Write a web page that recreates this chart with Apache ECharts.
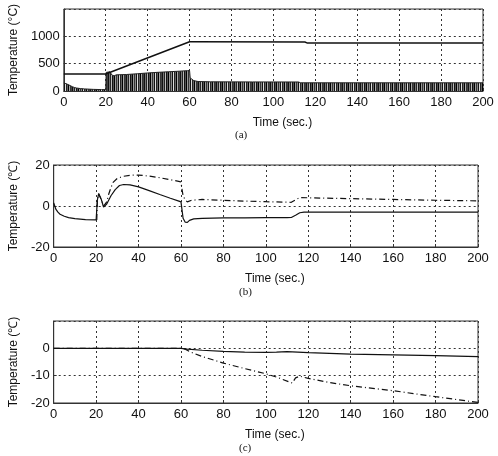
<!DOCTYPE html>
<html>
<head>
<meta charset="utf-8">
<script src="https://cdn.jsdelivr.net/npm/echarts@6/dist/echarts.min.js"></script>
<style>
  html, body { margin: 0; padding: 0; background: #fff; }
  #chart { width: 498px; height: 456px; }
</style>
</head>
<body>
<div id="chart"></div>
<script>
// x ticks shared by all three panels
const timeTicks = [0, 20, 40, 60, 80, 100, 120, 140, 160, 180, 200];

// (a) set-point temperature and heater drive envelope [time, value]
const aSetpoint = [[0, 310], [20, 310], [20.5, 330], [60, 900], [61, 900], [115, 895], [116, 880], [200, 880]];
const aDrive = [
  [0, 145], [1, 135], [2, 118], [3, 100], [4, 80], [5, 65], [6, 55], [8, 44], [10, 38], [14, 30],
  [18, 26], [20, 25], [20.2, 340], [21, 355], [22, 352], [23, 290], [24, 278], [25, 295], [30, 302],
  [35, 315], [40, 330], [45, 342], [50, 352], [55, 362], [59, 372], [60, 375], [60.3, 240], [61, 215],
  [62, 190], [64, 174], [70, 168], [90, 166], [112, 165], [113, 150], [200, 150]
];

// (b) temperature error, solid and dash-dot curves
const bSolid = [
  [0, 1.5], [0.5, 0], [1, -1.5], [2, -3], [3, -4], [5, -5], [7, -5.7], [10, -6.2], [15, -6.6], [20, -6.8],
  [20.3, -6.8], [20.6, 3], [21.2, 6], [21.8, 6.3], [22.5, 3], [23.5, -0.5], [24, -0.9], [25, 1], [27, 5],
  [29, 8], [31, 10], [33, 10.5], [36, 10.3], [40, 9.3], [45, 7.5], [50, 5.6], [55, 3.8], [59, 2.4], [60, 2],
  [60.5, -2], [61, -6], [62, -7.9], [63, -8], [64, -7], [66, -6.3], [70, -6], [80, -5.8], [90, -5.8],
  [100, -5.7], [110, -5.7], [112, -5.6], [114, -4.5], [116, -3.3], [118, -3], [200, -3]
];
const bDashDot = [
  [20.3, -6.8], [20.6, 3], [21.2, 6], [21.8, 6.3], [22.5, 3], [23.5, 0], [24, -0.5], [25, 2], [26, 6],
  [27, 9], [28, 11.5], [30, 13.5], [33, 14.5], [36, 15], [40, 15.1], [45, 14.6], [50, 13.8], [55, 12.8],
  [60, 11.8], [60.5, 8], [61, 5], [62, 3], [63, 2], [65, 2.8], [70, 3.2], [80, 2.8], [90, 2.4], [100, 2.1],
  [112, 1.8], [114, 3], [116, 4.1], [120, 4], [140, 3.6], [160, 3.2], [180, 2.8], [200, 2.5]
];

// (c) temperature error, solid and dash-dot curves
const cSolid = [
  [0, 0], [60, 0], [63, -0.3], [70, -0.7], [80, -1.1], [90, -1.4], [100, -1.5], [105, -1.4], [110, -1.2],
  [115, -1.4], [120, -1.6], [140, -2.1], [160, -2.4], [180, -2.7], [200, -3]
];
const cDashDot = [
  [0, 0], [60, 0], [62, -0.3], [65, -1.5], [70, -3], [80, -5.4], [90, -7.4], [100, -9.3], [105, -10.5],
  [111, -12.3], [112.5, -12.7], [114, -10.8], [116, -10.2], [120, -11], [130, -12.5], [140, -13.7],
  [160, -15.5], [180, -17.7], [200, -19.8]
];

// striped fill that mimics the dense on/off drive signal
function stripes() {
  const shades = ['#111', '#777', '#222', '#bbb', '#111', '#555', '#000', '#999', '#333', '#888', '#111', '#ddd', '#222', '#666', '#000', '#aaa', '#333', '#444'];
  const c = document.createElement('canvas');
  c.width = shades.length;
  c.height = 4;
  const ctx = c.getContext('2d');
  shades.forEach((s, i) => { ctx.fillStyle = s; ctx.fillRect(i, 0, 1, 4); });
  return c;
}

const font = 'Liberation Sans, Arial, sans-serif';
const dotted = { color: '#333', type: [2, 3], width: 1 };

function xAx(gi) {
  return {
    gridIndex: gi, type: 'value', min: 0, max: 200, interval: 20,
    axisLine: { show: true, onZero: false, lineStyle: { color: '#333' } },
    axisTick: { show: true, inside: true, length: 3, lineStyle: { color: '#333' } },
    axisLabel: { color: '#111', fontSize: 13, fontFamily: font, margin: 5 },
    splitLine: { show: true, lineStyle: dotted },
    name: 'Time (sec.)', nameLocation: 'middle', nameGap: 26,
    nameTextStyle: { color: '#111', fontSize: 12, fontFamily: font, padding: [0, 0, 0, 18] }
  };
}

function yAx(gi, min, max, interval, hideMax, label, gap) {
  return {
    gridIndex: gi, type: 'value', min: min, max: max, interval: interval,
    axisLine: { show: true, onZero: false, lineStyle: { color: '#333' } },
    axisTick: { show: true, inside: true, length: 3, lineStyle: { color: '#333' } },
    axisLabel: {
      color: '#111', fontSize: 13, fontFamily: font, margin: 4, showMaxLabel: !hideMax,
      formatter: (v) => String(v)
    },
    splitLine: { show: true, lineStyle: dotted },
    name: label, nameLocation: 'middle', nameGap: gap,
    nameTextStyle: { color: '#111', fontSize: 12, fontFamily: font }
  };
}

function line(xi, data, dash, width) {
  return {
    type: 'line', xAxisIndex: xi, yAxisIndex: xi, data: data, showSymbol: false, symbol: 'none',
    lineStyle: { color: '#111', width: width || 1, type: dash ? [6, 3, 1, 3] : 'solid' }
  };
}

const chart = echarts.init(document.getElementById('chart'));
chart.setOption({
  backgroundColor: '#fff',
  animation: false,
  grid: [
    { left: 42, right: 15, top: 9, height: 82, show: true, borderColor: '#333', borderWidth: 1 },
    { left: 37, right: 20, top: 165, height: 82, show: true, borderColor: '#333', borderWidth: 1 },
    { left: 37, right: 20, top: 321, height: 82, show: true, borderColor: '#333', borderWidth: 1 }
  ],
  xAxis: [xAx(0), xAx(1), xAx(2)],
  yAxis: [
    yAx(0, 0, 1500, 500, true, 'Temperature (°C)', 31),
    yAx(1, -20, 20, 20, false, 'Temperature (℃)', 22),
    yAx(2, -20, 10, 10, true, 'Temperature (℃)', 22)
  ],
  series: [
    {
      type: 'line', xAxisIndex: 0, yAxisIndex: 0, data: aDrive, showSymbol: false, symbol: 'none',
      lineStyle: { color: '#222', width: 1 },
      areaStyle: { color: { image: stripes(), repeat: 'repeat' }, opacity: 1 }
    },
    line(0, aSetpoint, false, 1.5),
    line(1, bSolid, false, 1.2),
    line(1, bDashDot, true, 1.2),
    line(2, cSolid, false, 1.2),
    line(2, cDashDot, true, 1.2)
  ],
  graphic: [
    { type: 'text', left: 235, top: 130, style: { text: '(a)', font: '11px Liberation Serif', fill: '#111' } },
    { type: 'text', left: 239, top: 287, style: { text: '(b)', font: '11px Liberation Serif', fill: '#111' } },
    { type: 'text', left: 239, top: 443, style: { text: '(c)', font: '11px Liberation Serif', fill: '#111' } }
  ]
});
</script>
</body>
</html>
